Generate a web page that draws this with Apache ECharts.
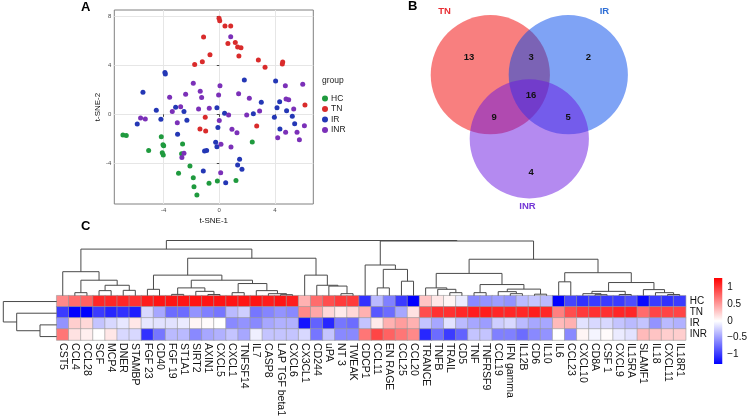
<!DOCTYPE html>
<html>
<head>
<meta charset="utf-8">
<title>t-SNE, Venn and cytokine heatmap</title>
<script src="https://cdn.jsdelivr.net/npm/echarts@6.0.0/dist/echarts.min.js"></script>
<style>
    html, body { margin: 0; padding: 0; background: #fff; }
    .chart { width: 750px; height: 419px; }
</style>
</head>
<body>
<div class="chart"></div>
<script>
// ===== A: t-SNE coordinates [t-SNE-1, t-SNE-2] =====
var groupNames = ['HC', 'TN', 'IR', 'INR'];
var hcPoints = [[-6.93,-1.68],[-6.69,-1.73],[-4.17,-1.82],[-4.05,-2.47],[-4.0,-2.55],[-2.64,-2.41],[-5.08,-2.95],
    [-4.1,-3.12],[-4.03,-3.31],[-2.71,-3.2],[-2.11,-4.2],[-2.93,-4.8],[-1.87,-5.15],[2.37,-2.25],[-1.82,-5.88],
    [-0.74,-5.61],[-0.14,-5.42],[1.2,-5.37],[-1.61,-6.56]];
var tnPoints = [[-0.02,7.8],[0.03,7.6],[0.41,7.18],[0.82,7.18],[-1.13,6.29],[0.62,5.75],[1.15,5.83],[1.32,5.47],
    [1.56,5.42],[-0.67,4.85],[1.41,4.74],[-1.22,4.28],[-1.77,4.04],[2.81,4.42],[3.29,3.82],[4.56,4.25],[4.53,4.09],
    [6.16,0.76],[-1.01,-0.24],[-1.39,-1.19],[-0.98,-1.36],[2.69,-0.95]];
var irPoints = [[-3.91,3.39],[-3.88,3.28],[-5.49,1.79],[1.8,2.79],[4.05,2.71],[-4.53,0.33],[-3.14,0.57],[-2.54,0.22],
    [-0.17,0.54],[0.38,0.08],[-4.2,-0.41],[-2.33,-0.49],[-5.9,-0.79],[3.02,0.98],[4.34,1.03],[4.15,0.54],[4.84,0.3],
    [2.45,0.05],[3.96,-0.24],[5.25,-0.16],[5.42,-0.76],[-0.1,-1.08],[4.36,-1.19],[-3.0,-1.63],[-0.26,-2.28],
    [-0.17,-2.63],[-1.06,-2.98],[-0.91,-2.95],[1.46,-3.66],[1.32,-4.12],[1.63,-4.47],[-1.15,-4.61],[0.46,-5.56]];
var inrPoints = [[0.82,6.31],[-1.87,2.52],[0.05,2.33],[-1.37,1.87],[-1.27,1.36],[-0.05,1.57],[1.39,1.68],[-3.57,1.38],
    [-2.42,1.63],[2.16,1.3],[6.0,2.44],[4.75,2.33],[4.8,1.25],[4.99,1.19],[5.35,0.43],[-2.78,0.62],[-3.38,0.22],
    [-1.49,0.43],[-0.72,0.49],[0.67,-0.05],[1.97,-0.05],[2.9,0.27],[-5.66,-0.3],[-5.32,-0.38],[-3.02,-0.68],[0.0,-0.51],
    [6.12,-0.92],[0.91,-1.22],[1.27,-1.49],[4.77,-1.46],[5.59,-1.46],[4.2,-1.9],[5.76,-2.06],[0.12,-2.44],[0.84,-2.66],
    [-2.54,-3.17],[-2.69,-3.52],[0.1,-4.74]];
var tsneTicks = [-4, 0, 4];
var tsneTicksY = [-4, 0, 4, 8];

// ===== B: Venn region counts =====
var vennSets = ['TN', 'IR', 'INR'];
var vennRegions = ['TN', 'TN-IR', 'IR', 'TN-IR-INR', 'TN-INR', 'IR-INR', 'INR'];
var vennCounts = [13, 3, 2, 16, 9, 5, 4];

// ===== C: scaled expression per group =====
var genes = ['CST5','CCL4','CCL28','SCF','MCP4','DNER','STAMBP','FGF 23','CD40','FGF 19','ST1A1','SIRT2','AXIN1',
    'CXCL5','CXCL1','TNFSF14','IL7','CASP8','LAP TGF beta1','CXCL6','CX3CL1','CD244','uPA','NT 3','TWEAK','CDCP1',
    'CCL11','EN RAGE','CCL25','CCL20','TRANCE','TNFB','TRAIL','CD5','TNF','TNFRSF9','CCL19','IFN gamma','IL12B','CD6',
    'IL10','IL6','CCL23','CXCL10','CD8A','CSF 1','CXCL9','IL15RA','SLAMF1','IL18','CXCL11','IL18R1'];
var rowGroups = ['HC', 'TN', 'IR', 'INR'];
var hcScores = [0.6,0.75,0.8,1.1,1.1,1.1,1.05,1.15,1.2,1.2,1.2,1.2,1.2,1.2,1.2,1.2,1.2,1.15,1.2,1.15,
    0.4,0.75,0.9,1.0,1.0,-1.05,-0.35,-0.65,-1.0,-1.3,0.3,0.12,0.05,-0.1,-0.6,-0.55,-0.5,-0.55,-0.35,-0.3,
    -0.35,-1.3,-0.95,-1.05,-1.0,-1.0,-1.0,-0.9,-1.25,-1.0,-1.05,-1.0];
var tnScores = [-1.0,-1.3,-1.3,-1.0,-1.1,-1.05,-1.15,-0.2,-0.45,-0.75,-0.75,-0.55,-0.65,-0.7,-0.35,-0.25,-0.7,-0.62,-0.55,-0.6,
    0.6,0.45,0.2,0.1,0.2,0.4,-0.85,-0.75,-0.45,0.15,0.9,1.05,1.05,1.1,1.15,1.15,1.1,1.1,1.1,1.15,
    1.1,0.65,0.9,1.0,1.05,1.05,1.1,1.1,0.75,0.95,0.95,0.95];
var irScores = [-0.55,0.25,0.2,-0.3,-0.2,-0.12,0.12,-0.12,-0.15,-0.15,-0.1,0.05,0.02,0.0,-0.6,-0.55,-0.6,-0.45,-0.4,-0.4,
    -1.2,-0.8,-1.1,-0.7,-0.75,-0.3,0.1,0.4,0.5,0.4,-0.3,-0.45,-0.15,-0.35,-0.45,-0.5,-0.25,-0.2,-0.35,-0.45,
    -0.45,0.35,0.4,-0.15,-0.2,-0.2,-0.3,-0.35,-0.3,-0.55,-0.35,-0.4];
var inrScores = [0.7,0.15,0.08,0.0,0.12,-0.2,-0.2,-1.05,-0.7,-0.35,-0.35,-0.6,-0.45,-0.4,-0.3,-0.45,-0.08,-0.3,-0.3,-0.3,
    -0.2,-0.7,-0.3,-0.6,-0.6,0.7,0.95,0.8,0.7,0.6,-1.1,-0.75,-1.0,-0.8,-0.3,-0.3,-0.65,-0.65,-0.75,-0.6,
    -0.55,0.0,-0.6,0.05,-0.05,0.02,-0.1,-0.15,0.35,0.3,0.25,0.25];
var legendTicks = [1, 0.5, 0, -0.5, -1];

// dendrograms: leaf = column / row index, node = [left, right, height]
var colTree = [
    [[0, [[1, 2, 3], [[3, 4, 5], [5, 6, 5.3], 10.3], 15.3], 23.7],
     [[[7, 8, 6.3], [[[9, 10, 1.3], [11, [12, 13, 1.2], 4.3], 7.7],
        [[14, 15, 3], [16, [17, [18, 19, 1], 2], 5], 12], 15.3], 20.3],
      [20, [21, [22, [23, 24, 2], 9.5], 10.3], 20.3], 37], 46],
    [[25, [[26, 27, 7.7], [28, 29, 14.3], 26], 30.3],
     [[[30, [31, [32, 33, 3], 6.3], 7.7],
       [[34, 35, 3], [[36, [37, 38, 2], 4], [39, 40, 1.5], 6.5], 11], 22],
      [[41, 42, 13.7],
       [[[43, [44, 45, 1], 2], [46, 47, 1.2], 4.3], [48, [49, [50, 51, 1.2], 3], 6], 13], 22.7], 36], 54],
    54.5];
var rowTree = [0, [1, [2, 3, 16.7], 40], 53.4];

// ---------------------------------------------------------------
var FONT = '"Liberation Sans", Arial, sans-serif';
var chart = echarts.init(document.querySelector('.chart'));

// walk the tree, collect the elbow lines
function dendro(node, segs, horizontal) {
    if (typeof node === 'number') return { p: node, h: 0 };
    var l = dendro(node[0], segs, horizontal);
    var r = dendro(node[1], segs, horizontal);
    var h = node[2];
    var pts = [[l.p, l.h], [l.p, h], [r.p, h], [r.p, r.h]];
    if (horizontal) pts = pts.map(function (d) { return [d[1], d[0]]; });
    segs.push({ coords: pts });
    return { p: (l.p + r.p) / 2, h: h };
}
var colSegs = [], rowSegs = [];
dendro(colTree, colSegs, false);
dendro(rowTree, rowSegs, true);

var heatData = [];
[hcScores, tnScores, irScores, inrScores].forEach(function (arr, r) {
    arr.forEach(function (v, c) { heatData.push([c, r, v]); });
});

// venn geometry in circle-radius units (layout only)
var vennLayout = {
    circles: [[-0.654, 0], [0.654, 0], [0, -1.075]],
    setLabels: [[-1.42, 1.07], [1.26, 1.07], [-0.03, -2.21]],
    regionLabels: [[-1.01, 0.285], [0.03, 0.285], [0.99, 0.285], [0.03, -0.35], [-0.59, -0.715], [0.65, -0.715], [0.03, -1.64]]
};
var vennFill = ['rgb(241,0,0)', 'rgb(0,71,235)', 'rgb(105,21,225)'];
var vennText = ['#e82f35', '#2f6fd6', '#7438d6'];
var groupColors = ['#1f9a3e', '#d92b2b', '#2437b5', '#7b30b8'];

var hidden = { show: false };
function hiddenAxis(grid, min, max, inverse) {
    return { type: 'value', gridIndex: grid, min: min, max: max, inverse: !!inverse, show: false };
}

var option = {
    animation: false,
    textStyle: { fontFamily: FONT },
    title: [
        { text: 'A', left: 81, top: 1, padding: 0, textStyle: { fontSize: 13, fontWeight: 'bold', color: '#000', fontFamily: FONT } },
        { text: 'B', left: 408, top: 0, padding: 0, textStyle: { fontSize: 13, fontWeight: 'bold', color: '#000', fontFamily: FONT } },
        { text: 'C', left: 81, top: 220, padding: 0, textStyle: { fontSize: 13, fontWeight: 'bold', color: '#000', fontFamily: FONT } },
        { text: 'group', left: 322, top: 76, padding: 0, textStyle: { fontSize: 8.5, fontWeight: 'normal', color: '#222', fontFamily: FONT } }
    ],
    legend: {
        data: groupNames, orient: 'vertical', left: 322, top: 94, padding: 0,
        icon: 'circle', itemWidth: 6, itemHeight: 6, itemGap: 1.5,
        textStyle: { fontSize: 8.5, color: '#222', lineHeight: 7, padding: [0, 0, 0, -2] }
    },
    visualMap: {
        show: false, seriesIndex: 7, dimension: 2, min: -1.3, max: 1.3,
        inRange: { color: ['#0000ff', '#ffffff', '#ff0000'] }
    },
    grid: [
        { left: 114.3, top: 10, width: 199, height: 194, show: true, borderColor: '#808080', borderWidth: 1, backgroundColor: '#fff' },
        { left: 422, top: 0.2, width: 214.6, height: 211.6 },
        { left: 56.7, top: 240.5, width: 629, height: 55.2 },
        { left: 3.3, top: 295.7, width: 53.4, height: 46.7 },
        { left: 56.7, top: 295.7, width: 629, height: 46.7 },
        { left: 714, top: 278, width: 8.5, height: 86 }
    ],
    xAxis: [
        {
            type: 'value', gridIndex: 0, min: -7.55, max: 6.76, splitNumber: 7,
            axisLine: hidden,
            axisTick: { show: true, length: 2.5, customValues: tsneTicks, lineStyle: { color: '#444' } },
            axisLabel: { customValues: tsneTicks, fontSize: 6, color: '#4d4d4d', margin: 3 },
            splitLine: { show: true, lineStyle: { color: '#e6e6e6', width: 1 } },
            name: 't-SNE-1', nameLocation: 'middle', nameGap: 13,
            nameTextStyle: { fontSize: 8, color: '#111' }
        },
        hiddenAxis(1, -1.8, 1.8),
        hiddenAxis(2, -0.5, 51.5),
        hiddenAxis(3, 0, 53.4, true),
        {
            type: 'category', gridIndex: 4, data: genes, position: 'bottom',
            axisLine: hidden, axisTick: hidden, splitLine: hidden,
            axisLabel: { interval: 0, rotate: -90, fontSize: 10.5, color: '#111', margin: 3 }
        },
        hiddenAxis(5, 0, 1)
    ],
    yAxis: [
        {
            type: 'value', gridIndex: 0, min: -7.29, max: 8.48, splitNumber: 8,
            axisLine: hidden,
            axisTick: { show: true, length: 2.5, customValues: tsneTicksY, lineStyle: { color: '#444' } },
            axisLabel: { customValues: tsneTicksY, fontSize: 6, color: '#4d4d4d', margin: 3 },
            splitLine: { show: true, lineStyle: { color: '#e6e6e6', width: 1 } },
            name: 't-SNE-2', nameLocation: 'middle', nameGap: 11, nameRotate: 90,
            nameTextStyle: { fontSize: 8, color: '#111' }
        },
        hiddenAxis(1, -2.3, 1.25),
        hiddenAxis(2, 0, 54.5),
        hiddenAxis(3, -0.5, 3.5, true),
        {
            type: 'category', gridIndex: 4, data: rowGroups, inverse: true, position: 'right',
            axisLine: hidden, axisTick: hidden, splitLine: hidden,
            axisLabel: { interval: 0, fontSize: 10, color: '#111', margin: 4 }
        },
        {
            type: 'value', gridIndex: 5, min: -1.29, max: 1.29, position: 'right',
            axisLine: hidden, axisTick: hidden, splitLine: hidden,
            axisLabel: {
                customValues: legendTicks, fontSize: 10, color: '#111', margin: 5,
                formatter: function (v) { return String(v).replace('-', '\u2212'); }
            }
        }
    ],
    series: [
        // A: scatter per group (0-3)
        { name: 'HC', type: 'scatter', xAxisIndex: 0, yAxisIndex: 0, data: hcPoints, symbolSize: 5, itemStyle: { color: groupColors[0], opacity: 1 } },
        { name: 'TN', type: 'scatter', xAxisIndex: 0, yAxisIndex: 0, data: tnPoints, symbolSize: 5, itemStyle: { color: groupColors[1], opacity: 1 } },
        { name: 'IR', type: 'scatter', xAxisIndex: 0, yAxisIndex: 0, data: irPoints, symbolSize: 5, itemStyle: { color: groupColors[2], opacity: 1 } },
        { name: 'INR', type: 'scatter', xAxisIndex: 0, yAxisIndex: 0, data: inrPoints, symbolSize: 5, itemStyle: { color: groupColors[3], opacity: 1 } },
        // B: venn circles (4)
        {
            type: 'custom', xAxisIndex: 1, yAxisIndex: 1, silent: true, clip: false,
            data: vennSets.map(function (s, i) {
                return { name: s, value: [vennLayout.circles[i][0], vennLayout.circles[i][1], 1], itemStyle: { color: vennFill[i] } };
            }),
            renderItem: function (params, api) {
                var c = api.coord([api.value(0), api.value(1)]);
                var r = api.size([api.value(2), 0])[0];
                return { type: 'circle', shape: { cx: c[0], cy: c[1], r: r }, style: { fill: api.visual('color'), opacity: 0.5 } };
            }
        },
        // B: counts (5)
        {
            type: 'scatter', xAxisIndex: 1, yAxisIndex: 1, symbolSize: 0, silent: true, clip: false,
            itemStyle: { opacity: 1 },
            data: vennRegions.map(function (name, i) {
                return { name: name, value: vennLayout.regionLabels[i].concat(vennCounts[i]) };
            }),
            label: {
                show: true, position: 'inside', fontSize: 9.5, fontWeight: 'bold', color: '#111',
                formatter: function (p) { return p.value[2]; }
            }
        },
        // B: set names (6)
        {
            type: 'scatter', xAxisIndex: 1, yAxisIndex: 1, symbolSize: 0, silent: true, clip: false,
            itemStyle: { opacity: 1 },
            data: vennSets.map(function (s, i) {
                return { name: s, value: vennLayout.setLabels[i], label: { color: vennText[i], fontWeight: 'bold' } };
            }),
            label: { show: true, position: 'inside', fontSize: 9.5, fontWeight: 'bold', formatter: '{b}' }
        },
        // C: heatmap (7)
        {
            type: 'heatmap', xAxisIndex: 4, yAxisIndex: 4, data: heatData,
            itemStyle: { borderColor: '#9a9a9a', borderWidth: 0.6 }
        },
        // C: column dendrogram (8)
        {
            type: 'lines', coordinateSystem: 'cartesian2d', xAxisIndex: 2, yAxisIndex: 2, polyline: true, silent: true,
            data: colSegs, lineStyle: { color: '#4a4a4a', width: 1, opacity: 1 }
        },
        // C: row dendrogram (9)
        {
            type: 'lines', coordinateSystem: 'cartesian2d', xAxisIndex: 3, yAxisIndex: 3, polyline: true, silent: true,
            data: rowSegs, lineStyle: { color: '#4a4a4a', width: 1, opacity: 1 }
        },
        // C: colour key (10)
        {
            type: 'custom', xAxisIndex: 5, yAxisIndex: 5, silent: true, data: [[0]],
            renderItem: function (params, api) {
                var a = api.coord([0, 1.29]), b = api.coord([1, -1.29]);
                return {
                    type: 'rect',
                    shape: { x: a[0], y: a[1], width: b[0] - a[0], height: b[1] - a[1] },
                    style: {
                        fill: new echarts.graphic.LinearGradient(0, 0, 0, 1, [
                            { offset: 0, color: '#ff0000' }, { offset: 0.5, color: '#ffffff' }, { offset: 1, color: '#0000ff' }
                        ])
                    }
                };
            }
        }
    ]
};

chart.setOption(option);
</script>
</body>
</html>
